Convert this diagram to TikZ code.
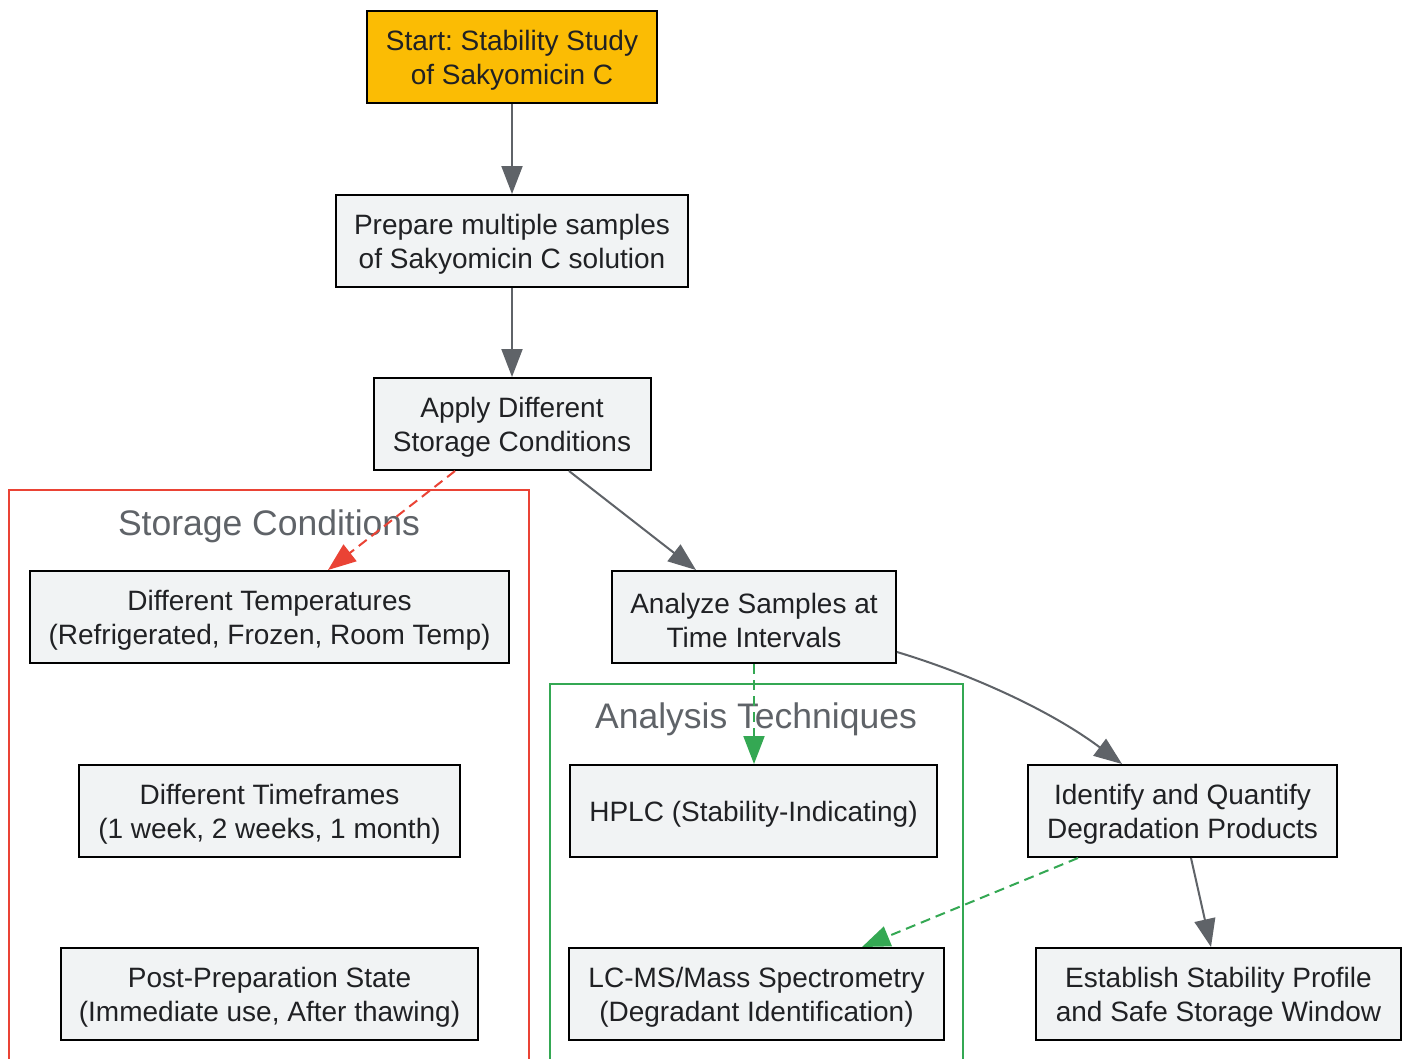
\documentclass[tikz,border=0pt]{standalone}
\usepackage{fontspec}
\setmainfont{Liberation Sans}
\usetikzlibrary{arrows.meta}
\frenchspacing
\definecolor{nodefill}{HTML}{F1F3F4}
\definecolor{gold}{HTML}{FBBC04}
\definecolor{edgegray}{HTML}{5F6368}
\definecolor{gred}{HTML}{EA4335}
\definecolor{ggreen}{HTML}{34A853}
\definecolor{txt}{HTML}{202124}
\newcommand{\topstrut}{\rule{0pt}{26.5pt}}
\tikzset{
  box/.style={draw=black, line width=2pt, fill=nodefill, align=center, text=txt,
    font=\fontsize{28}{34}\selectfont, inner sep=0pt},
  startbox/.style={box, fill=gold},
  conn/.style={draw=edgegray, line width=2pt, -{Triangle[length=28pt,width=21pt]}, color=edgegray},
  redconn/.style={draw=gred, line width=2pt, dash pattern=on 10pt off 6pt, -{Triangle[length=28pt,width=21pt]}, color=gred},
  greenconn/.style={draw=ggreen, line width=2pt, dash pattern=on 10pt off 6pt, -{Triangle[length=28pt,width=21pt]}, color=ggreen},
  cluster/.style={line width=2pt},
  clustertitle/.style={text=edgegray, font=\fontsize{35.5}{40}\selectfont}
}
\begin{document}
\begin{tikzpicture}[x=1pt,y=-1pt]
\clip (0,0) rectangle (1408,1058);
\fill[white] (0,0) rectangle (1408,1058);
% clusters
\draw[cluster, draw=gred] (9,490) rectangle (529,1080);
\draw[cluster, draw=ggreen] (550,684) rectangle (963,1080);
\node[clustertitle] (t1) at (269,526) {Storage Conditions};
\node[clustertitle] (t2) at (756,719) {Analysis Techniques};
% nodes
\node[startbox, minimum width=290pt, minimum height=92pt] (start) at (512,57) {\topstrut Start: Stability Study\\of Sakyomicin C};
\node[box, minimum width=352pt, minimum height=92pt] (prep) at (512,241) {\topstrut Prepare multiple samples\\of Sakyomicin C solution};
\node[box, minimum width=277pt, minimum height=92pt] (apply) at (512,424) {\topstrut Apply Different\\Storage Conditions};
\node[box, minimum width=479pt, minimum height=92pt] (temp) at (269.5,617) {\topstrut Different Temperatures\\(Refrigerated, Frozen, Room Temp)};
\node[box, minimum width=381pt, minimum height=92pt] (time) at (269.5,811) {\topstrut Different Timeframes\\(1 week, 2 weeks, 1 month)};
\node[box, minimum width=417pt, minimum height=92pt] (post) at (269.5,994) {\topstrut Post-Preparation State\\(Immediate use, After thawing)};
\node[box, minimum width=284pt, minimum height=92pt] (analyze) at (754,617) {\topstrut Analyze Samples at\\Time Intervals};
\node[box, minimum width=367pt, minimum height=92pt] (hplc) at (753.5,811) {\topstrut HPLC (Stability-Indicating)};
\node[box, minimum width=375pt, minimum height=92pt] (lcms) at (756.5,994) {\topstrut LC-MS/Mass Spectrometry\\(Degradant Identification)};
\node[box, minimum width=309pt, minimum height=92pt] (ident) at (1182.5,811) {\topstrut Identify and Quantify\\Degradation Products};
\node[box, minimum width=365pt, minimum height=92pt] (estab) at (1218.5,994) {\topstrut Establish Stability Profile\\and Safe Storage Window};
% edges
\draw[conn] (start) -- (prep);
\draw[conn] (prep) -- (apply);
\draw[redconn] (apply.south -| 455,0) -- (temp.north -| 328,0);
\draw[conn] (apply.south -| 569,0) -- (analyze.north -| 696,0);
\draw[greenconn] (analyze.south -| 754,0) -- (hplc.north -| 754,0);
\draw[conn] (analyze.east |- 0,652) .. controls (970,674) and (1050,710) .. (ident.north -| 1122,0);
\draw[greenconn] (ident.south -| 1078,0) -- (lcms.north -| 862,0);
\draw[conn] (ident.south -| 1191,0) -- (estab.north -| 1211,0);
\end{tikzpicture}
\end{document}
